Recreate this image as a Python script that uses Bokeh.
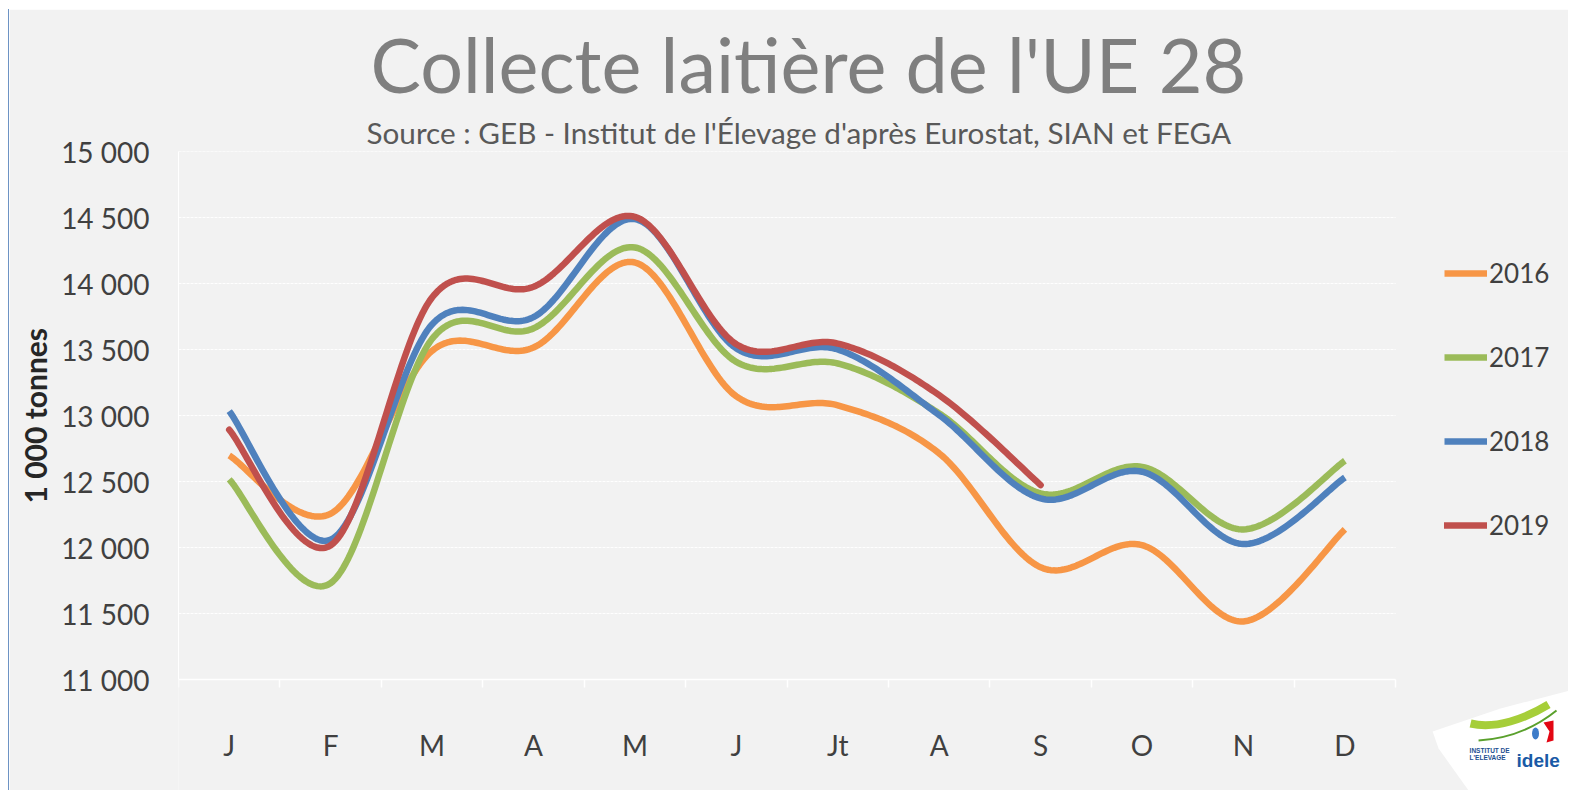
import numpy as np
from bokeh.plotting import figure
from bokeh.models import Range1d, FixedTicker, Legend, LegendItem, Title
from bokeh.core.properties import value
from bokeh.embed import file_html
from bokeh.resources import INLINE

# ---- data (1 000 tonnes) ----
months = ["J", "F", "M", "A", "M", "J", "Jt", "A", "S", "O", "N", "D"]
y2016 = [12697, 12256, 13490, 13515, 14159, 13145, 13077, 12713, 11850, 12018, 11440, 12137]
y2017 = [12516, 11730, 13580, 13660, 14273, 13406, 13394, 13016, 12410, 12611, 12137, 12657]
y2018 = [13033, 12059, 13690, 13745, 14488, 13508, 13500, 13003, 12372, 12574, 12026, 12530]
y2019 = [12892, 12016, 13894, 13975, 14505, 13540, 13545, 13154, 12473]
series_names = ["2016", "2017", "2018", "2019"]
y_ticks = [11000, 11500, 12000, 12500, 13000, 13500, 14000, 14500, 15000]
y_tick_labels = ["11 000", "11 500", "12 000", "12 500", "13 000", "13 500", "14 000", "14 500", "15 000"]
logo_small = ["INSTITUT DE", "L'ELEVAGE"]
logo_big = "idele"

colors = ["#f79646", "#9bbb59", "#4f81bd", "#c0504d"]
FONT = "Lato"
BG = "#f2f2f2"

# ---- layout geometry (pixels) ----
W, H = 1560, 781            # canvas (page offset 8+1px border, 9)
LEFT, TOP = 168, 142        # frame origin inside the canvas
AX_W, AX_H = 1218, 528      # size of the category/value area of the chart
FRAME_W, FRAME_H = W - LEFT, H - TOP
cat_px = AX_W / len(months)
val_per_px = (y_ticks[-1] - y_ticks[0]) / AX_H
x_end = -0.5 + FRAME_W / cat_px
y_start = y_ticks[-1] - FRAME_H * val_per_px


def smooth(vals, n=40):
    """Excel-like smoothed line (Bezier with 1/6 tension, Catmull-Rom)."""
    pts = np.array([[i, v] for i, v in enumerate(vals)], dtype=float)
    xs, ys = [], []
    m = len(pts)
    for i in range(m - 1):
        p0 = pts[i - 1] if i > 0 else pts[i]
        p1 = pts[i]
        p2_ = pts[i + 1]
        p3 = pts[i + 2] if i + 2 < m else pts[i + 1]
        c1 = p1 + (p2_ - p0) / 6.0
        c2 = p2_ - (p3 - p1) / 6.0
        t = np.linspace(0, 1, n, endpoint=(i == m - 2))
        b = ((1 - t) ** 3)[:, None] * p1 + (3 * (1 - t) ** 2 * t)[:, None] * c1 \
            + (3 * (1 - t) * t ** 2)[:, None] * c2 + (t ** 3)[:, None] * p2_
        xs.extend(b[:, 0])
        ys.extend(b[:, 1])
    return xs, ys


p = figure(width=W, height=H, output_backend="svg", toolbar_location=None,
           x_range=Range1d(-0.5, x_end), y_range=Range1d(y_start, y_ticks[-1]),
           min_border_left=LEFT, min_border_right=0, min_border_top=TOP, min_border_bottom=0)
p.background_fill_color = BG
p.border_fill_color = BG
p.outline_line_color = None
p.styles = {"margin-left": "8px", "margin-top": "9px", "border-left": "1px solid #6d93c4"}
# pixel ranges (page coordinates) for the decorative logo
p.extra_x_ranges = {"px": Range1d(177, 1569)}
p.extra_y_ranges = {"px": Range1d(790, 151)}

# titles
p.title.text = "Collecte laitière de l'UE 28"
p.title.align = "left"
p.title.offset = 192
p.title.text_font = FONT
p.title.text_font_style = "normal"
p.title.text_font_size = "75.5px"
p.title.text_color = "#7f7f7f"
p.title.standoff = 4
subtitle = Title(text="Source : GEB - Institut de l'Élevage d'après Eurostat, SIAN et FEGA",
                 align="left", offset=188, text_font=FONT, text_font_style="normal",
                 text_font_size="29.7px", text_color="#595959", standoff=4)
p.add_layout(subtitle, "above")

# x axis, drawn at the bottom of the value scale
xa = p.xaxis[0]
xa.fixed_location = y_ticks[0]
xa.bounds = (-0.5, len(months) - 0.5)
xa.ticker = FixedTicker(ticks=list(range(len(months))),
                        minor_ticks=[i - 0.5 for i in range(len(months) + 1)])
xa.major_label_overrides = {i: m for i, m in enumerate(months)}
xa.major_tick_line_color = None
xa.major_tick_out = 0
xa.major_tick_in = 0
xa.minor_tick_line_color = "#ffffff"
xa.minor_tick_line_width = 1.5
xa.minor_tick_out = 8
xa.minor_tick_in = 0
xa.axis_line_color = "#ffffff"
xa.axis_line_width = 1.5
xa.major_label_standoff = 40
xa.major_label_text_font = FONT
xa.major_label_text_font_size = "28px"
xa.major_label_text_color = "#404040"

ya = p.yaxis[0]
ya.bounds = (y_ticks[0], y_ticks[-1])
ya.ticker = FixedTicker(ticks=y_ticks)
ya.major_label_overrides = {t: l for t, l in zip(y_ticks, y_tick_labels)}
ya.major_tick_line_color = None
ya.major_tick_out = 0
ya.major_tick_in = 0
ya.minor_tick_line_color = None
ya.axis_line_color = "#ffffff"
ya.major_label_standoff = 29
ya.major_label_text_font = FONT
ya.major_label_text_font_size = "28px"
ya.major_label_text_color = "#404040"

ytitle = Title(text="1 000 tonnes", align="left", offset=287, text_font=FONT,
               text_font_style="bold", text_font_size="30px", text_color="#262626",
               standoff=11)
p.add_layout(ytitle, "left")

# grid lines limited to the chart area
p.xgrid.grid_line_color = None
p.ygrid.grid_line_color = None
n_g = len(y_ticks) - 1
p.segment(x0=[-0.5] * n_g, x1=[len(months) - 0.5] * n_g, y0=y_ticks[1:], y1=y_ticks[1:],
          line_color="#ffffff", line_width=1, line_dash="3 1")

# series
items = []
for name, vals, col in zip(series_names, [y2016, y2017, y2018, y2019], colors):
    xs, ys = smooth(vals)
    r = p.line(xs, ys, line_color=col, line_width=6.5,
               line_cap="round" if name == "2019" else "butt", line_join="round")
    items.append(LegendItem(label=name, renderers=[r]))

legend = Legend(items=items, location=(1266, 249), orientation="vertical",
                glyph_width=43, glyph_height=26, label_height=26, label_standoff=2,
                spacing=52, padding=0, margin=0, border_line_color=None,
                background_fill_alpha=0, label_text_font=FONT,
                label_text_font_size="26px", label_text_color="#404040")
p.add_layout(legend, "center")

# decorative logo (page pixel coordinates)
kw = dict(x_range_name="px", y_range_name="px")
p.patch(x=[1432, 1500, 1569, 1569, 1468, 1438], y=[731, 708, 690, 790, 790, 748],
        fill_color="#ffffff", line_color=None, **kw)
p.bezier(x0=[1470], y0=[723], x1=[1548], y1=[704], cx0=[1495], cy0=[729], cx1=[1525], cy1=[718],
         line_color="#a6ce39", line_width=8, **kw)
p.bezier(x0=[1478], y0=[740], x1=[1556], y1=[710], cx0=[1510], cy0=[738], cx1=[1535], cy1=[727],
         line_color="#5aa02c", line_width=2, **kw)
p.ellipse(x=[1535], y=[733], width=[7], height=[12], fill_color="#3d7cc9", line_color=None, **kw)
p.patch(x=[1543, 1553, 1553, 1546, 1549], y=[722, 720, 740, 742, 731], fill_color="#e30613",
        line_color=None, **kw)
p.text(x=[1469, 1469], y=[750, 757], text=logo_small, text_font=value("Liberation Sans"),
       text_font_style="bold", text_font_size="6.5px", text_color="#1d4f91",
       text_baseline="middle", **kw)
p.text(x=[1516], y=[760], text=[logo_big], text_font=value("Liberation Sans"),
       text_font_style="bold", text_font_size="19px", text_color="#1a5aa6",
       text_baseline="alphabetic", **kw)

open("out.html", "w").write(file_html(p, INLINE))
